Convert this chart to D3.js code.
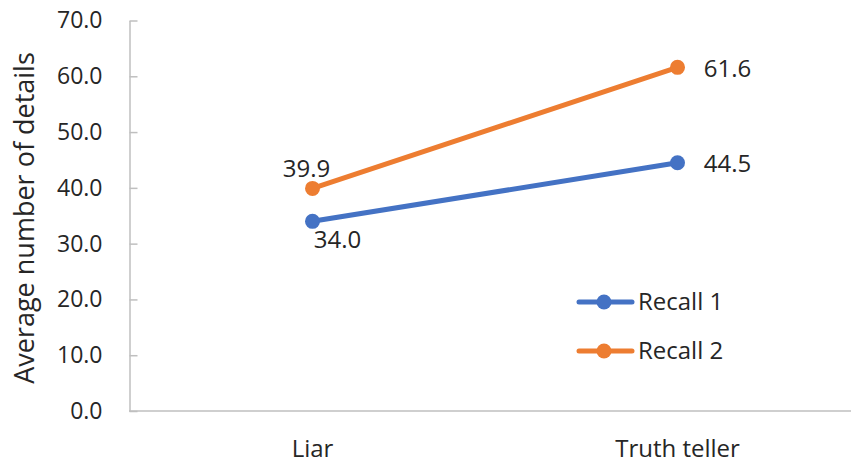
<!DOCTYPE html>
<html>
<head>
<meta charset="utf-8">
<script src="https://cdn.jsdelivr.net/npm/d3@7"></script>
<style>
  body { margin: 0; background: #fff; }
  text { font-family: "Open Sans", sans-serif; fill: #262626; }
</style>
</head>
<body>
<script>
var categories = ["Liar", "Truth teller"];
var seriesNames = ["Recall 1", "Recall 2"];
var recall1 = [34.0, 44.5];
var recall2 = [39.9, 61.6];
var yTicks = [0, 10, 20, 30, 40, 50, 60, 70];
var colors = ["#4472C4", "#ED7D31"];

var width = 851, height = 465;
var svg = d3.select("body").append("svg").attr("width", width).attr("height", height);

var x = d3.scaleBand().domain(categories).range([130, 860]);
var y = d3.scaleLinear().domain([0, 70]).range([411, 20.5]);
function cx(c) { return x(c) + x.bandwidth() / 2; }

// y axis
var yAxis = svg.append("g").attr("transform", "translate(129.5,0)")
    .call(d3.axisLeft(y).tickValues(yTicks).tickSizeInner(-8).tickSizeOuter(0).tickPadding(27)
        .tickFormat(d3.format(".1f")));
yAxis.select(".domain").attr("stroke", "#BFBFBF").attr("stroke-width", 1.5);
yAxis.selectAll(".tick line").attr("stroke", "#BFBFBF").attr("stroke-width", 1.5);
yAxis.selectAll(".tick text").attr("font-size", 23).style("font-family", "Open Sans").attr("fill", "#262626");

// x axis
var xAxis = svg.append("g").attr("transform", "translate(0," + y(0) + ")")
    .call(d3.axisBottom(x).tickSize(0).tickPadding(29));
xAxis.select(".domain").remove();
xAxis.append("line").attr("x1", 129).attr("x2", 851).attr("stroke", "#BFBFBF").attr("stroke-width", 1.5);
xAxis.selectAll(".tick text").attr("font-size", 24).style("font-family", "Open Sans").attr("fill", "#262626");

// y title
svg.append("text")
    .attr("transform", "translate(34,218) rotate(-90)")
    .attr("text-anchor", "middle")
    .attr("font-size", 27)
    .text("Average number of details");

var series = [recall1, recall2];
var line = d3.line().x(function (d, i) { return cx(categories[i]); }).y(function (d) { return y(d); });

series.forEach(function (vals, s) {
    svg.append("path").datum(vals)
        .attr("d", line).attr("fill", "none")
        .attr("stroke", colors[s]).attr("stroke-width", 5).attr("stroke-linecap", "round");
    svg.selectAll(".pt" + s).data(vals).enter().append("circle")
        .attr("cx", function (d, i) { return cx(categories[i]); })
        .attr("cy", function (d) { return y(d); })
        .attr("r", 7.5).attr("fill", colors[s]);
});

// data labels
var fmt = d3.format(".1f");
var labelPos = [
    [{dx: 25, dy: 27}, {dx: 50, dy: 9}],
    [{dx: -6, dy: -11}, {dx: 50, dy: 10}]
];
series.forEach(function (vals, s) {
    svg.selectAll(".lbl" + s).data(vals).enter().append("text")
        .attr("x", function (d, i) { return cx(categories[i]) + labelPos[s][i].dx; })
        .attr("y", function (d, i) { return y(d) + labelPos[s][i].dy; })
        .attr("text-anchor", "middle")
        .attr("font-size", 24)
        .text(function (d) { return fmt(d); });
});

// legend
var legend = svg.append("g");
seriesNames.forEach(function (name, s) {
    var ly = 302 + s * 49;
    legend.append("line").attr("x1", 579).attr("x2", 632).attr("y1", ly).attr("y2", ly)
        .attr("stroke", colors[s]).attr("stroke-width", 5).attr("stroke-linecap", "round");
    legend.append("circle").attr("cx", 604).attr("cy", ly).attr("r", 7.5).attr("fill", colors[s]);
    legend.append("text").attr("x", 638).attr("y", ly).attr("dy", "0.35em")
        .attr("font-size", 24).text(name);
});
</script>
</body>
</html>
